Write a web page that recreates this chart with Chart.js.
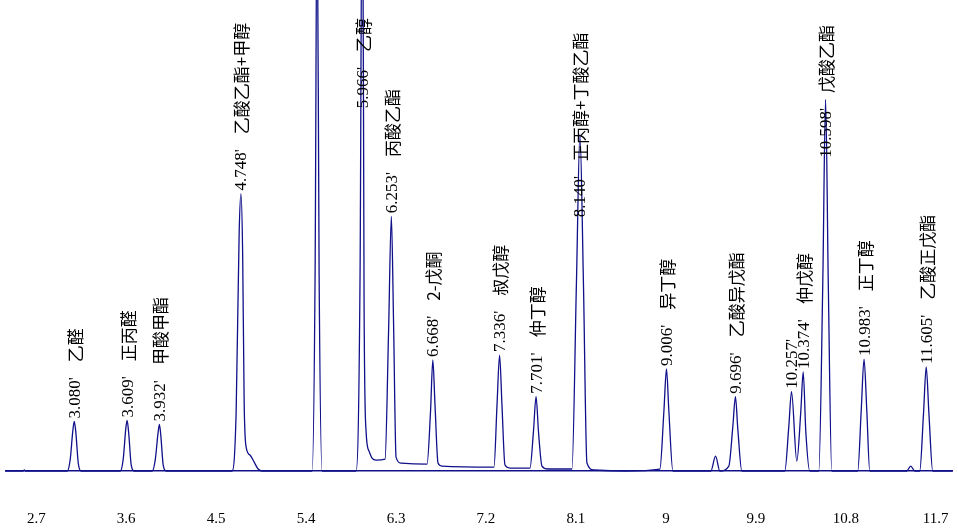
<!DOCTYPE html>
<html>
<head>
<meta charset="utf-8">
<script src="https://cdn.jsdelivr.net/npm/chart.js@4.4.0/dist/chart.umd.min.js"></script>
<style>
  html, body { margin: 0; padding: 0; background: #fff; }
  #wrap { width: 958px; height: 532px; }
</style>
</head>
<body>
<div id="wrap"><canvas id="chrom"></canvas></div>
<script>
// retention time ticks
let tickValues = [2.7, 3.6, 4.5, 5.4, 6.3, 7.2, 8.1, 9, 9.9, 10.8, 11.7];

// detector trace (time, height above baseline)
let traceTime = [
  2.39, 2.57, 2.58, 2.59, 3.01, 3.04, 3.065, 3.08, 3.095, 3.12, 3.15,
  3.54, 3.57, 3.595, 3.609, 3.625, 3.65, 3.68,
  3.86, 3.89, 3.918, 3.932, 3.946, 3.97, 4.00,
  4.66, 4.70, 4.73, 4.748, 4.765, 4.78, 4.80, 4.84, 4.88, 4.92, 4.96,
  5.46, 5.49, 5.51, 5.53, 5.56,
  5.90, 5.94, 5.96, 5.966, 5.98, 6.00, 6.03, 6.06, 6.10,
  6.19, 6.225, 6.253, 6.275, 6.30, 6.35,
  6.61, 6.645, 6.668, 6.69, 6.72, 6.76,
  7.28, 7.31, 7.336, 7.36, 7.39, 7.44,
  7.64, 7.675, 7.701, 7.725, 7.76, 7.82,
  8.06, 8.105, 8.14, 8.175, 8.21, 8.28,
  8.60, 8.94, 8.98, 9.006, 9.03, 9.07,
  9.45, 9.497, 9.54, 9.63, 9.67, 9.696, 9.72, 9.76,
  10.19, 10.23, 10.257, 10.31, 10.35, 10.374, 10.40, 10.44,
  10.53, 10.57, 10.598, 10.625, 10.66,
  10.92, 10.955, 10.983, 11.01, 11.04,
  11.41, 11.45, 11.49, 11.54, 11.578, 11.605, 11.632, 11.67, 11.87
];
let traceHeight = [
  0, 0, 1, 0, 0, 12, 40, 50, 40, 8, 0,
  0, 12, 42, 51, 38, 6, 0,
  0, 11, 38, 47, 36, 6, 0,
  0, 60, 240, 280, 220, 70, 24, 16, 9, 2, 0,
  0, 200, 600, 200, 0,
  0, 200, 600, 600, 170, 40, 20, 13, 11,
  12, 140, 257, 150, 14, 8,
  7, 60, 112, 66, 8, 5,
  4, 66, 117, 66, 6, 3,
  3, 40, 75, 40, 5, 2,
  2, 190, 340, 190, 8, 1,
  0, 2, 60, 103, 60, 0,
  0, 15, 0, 5, 45, 75, 42, 0,
  0, 45, 80, 10, 60, 100, 40, 0,
  0, 190, 375, 190, 0,
  0, 62, 113, 62, 0,
  0, 5, 0, 0, 58, 105, 58, 0, 0
];

// peak annotations
let peakTimes = [3.080, 3.609, 3.932, 4.748, 5.966, 6.253, 6.668, 7.336, 7.701, 8.140,
  9.006, 9.696, 10.257, 10.374, 10.598, 10.983, 11.605];
let peakNames = ["乙醛", "正丙醛", "甲酸甲酯", "乙酸乙酯+甲醇", "乙醇", "丙酸乙酯", "2-戊酮", "叔戊醇",
  "仲丁醇", "正丙醇+丁酸乙酯", "异丁醇", "乙酸异戊酯", "", "仲戊醇", "戊酸乙酯", "正丁醇", "乙酸正戊酯"];
let labelBase = [50, 51, 47, 280, 363, 257, 112, 117, 75, 253, 103, 75, 80, 100, 313, 113, 105];

let traceData = traceTime.map((t, i) => ({x: t, y: traceHeight[i]}));

let peakLabels = {
  id: 'peakLabels',
  afterDatasetsDraw: (chart) => {
    let ctx = chart.ctx;
    let xs = chart.scales.x, ys = chart.scales.y;
    ctx.save();
    ctx.fillStyle = '#000';
    ctx.textBaseline = 'middle';
    // tick labels under the baseline
    ctx.textAlign = 'center';
    ctx.font = '15px "Liberation Serif"';
    tickValues.forEach(v => ctx.fillText(String(v), xs.getPixelForValue(v), 519));
    ctx.textAlign = 'left';
    for (let i = 0; i < peakTimes.length; i++) {
      let px = xs.getPixelForValue(peakTimes[i]);
      let py = ys.getPixelForValue(labelBase[i]) - 3;
      ctx.save();
      ctx.translate(px + 1, py);
      ctx.rotate(-Math.PI / 2);
      ctx.font = '17px "Liberation Serif"';
      let num = peakTimes[i].toFixed(3) + "'";
      ctx.fillText(num, 0, 0);
      let w = ctx.measureText(num).width;
      ctx.font = '17px "Noto Sans CJK SC"';
      ctx.fillText(peakNames[i], w + 15, 0);
      ctx.restore();
    }
    ctx.restore();
  }
};

let cfg = {
  type: 'line',
  data: {
    datasets: [{
      data: traceData,
      borderColor: '#10108a',
      borderWidth: 1.3,
      pointStyle: false,
      cubicInterpolationMode: 'monotone',
      fill: false
    }]
  },
  options: {
    responsive: true,
    maintainAspectRatio: false,
    animation: false,
    clip: false,
    layout: { padding: { left: 0, right: 0, top: 0, bottom: 61 } },
    plugins: { legend: { display: false }, tooltip: { enabled: false } },
    scales: {
      x: {
        type: 'linear',
        min: 2.39,
        max: 11.87,
        ticks: { display: false },
        grid: { display: false, drawTicks: false },
        border: { color: '#10108a', width: 1.5 }
      },
      y: {
        display: false,
        min: 0,
        max: 470
      }
    }
  },
  plugins: [peakLabels]
};

let chrom = new Chart(document.getElementById("chrom"), cfg);
</script>
</body>
</html>
